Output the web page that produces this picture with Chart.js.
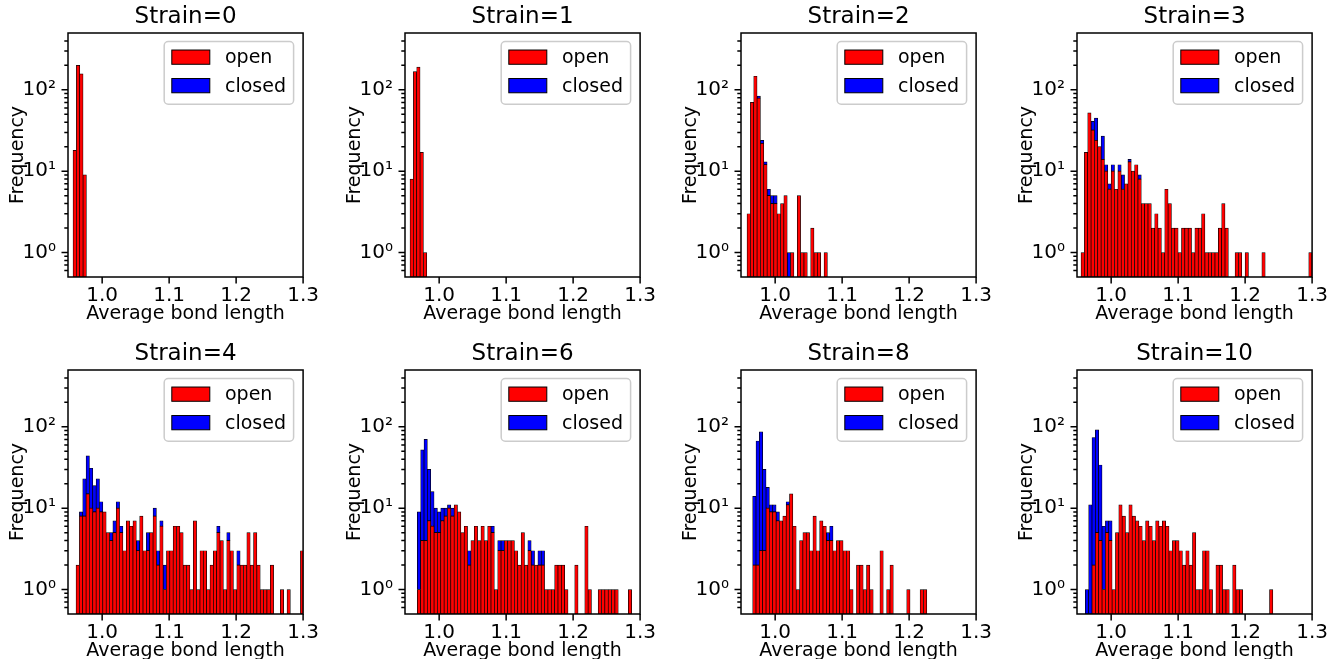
<!DOCTYPE html>
<html>
<head>
<meta charset="utf-8">
<script src="https://cdn.jsdelivr.net/npm/chart.js@4.4.0/dist/chart.umd.min.js"></script>
<style>
  html, body { margin: 0; padding: 0; background: #fff; overflow: hidden; width: 1329px; height: 659px; }
  canvas { position: absolute; }
</style>
</head>
<body>
<script>
// histogram data: counts per bin (bin width 0.005), one pair of arrays per strain
const strains = [0, 1, 2, 3, 4, 6, 8, 10];
const binWidth = 0.005;
const binStart = [0.9565, 0.9565, 0.958, 0.955, 0.961, 0.9674, 0.9664, 0.9614];

const open0 = [18, 200, 157, 9];
const closed0 = [0, 0, 0, 0];

const open1 = [8, 168, 190, 17, 1];
const closed1 = [0, 0, 0, 0, 0];

const open2 = [3, 70, 147, 79, 22, 12, 5, 4, 4, 3, 4, 5, 0, 1, 0, 5, 1, 1, 0, 2, 1, 1, 0, 1];
const closed2 = [0, 0, 0, 5, 2, 1, 1, 1, 1, 0, 0, 0, 1, 0, 0, 0, 0, 0, 0, 0, 0, 0, 0, 0];

const open3 = [1, 17, 52, 32, 24, 20, 14, 10, 6, 10,
               6, 10, 6, 7, 13, 10, 12, 8, 4, 4,
               4, 2, 3, 2, 1, 6, 4, 2, 2, 1,
               2, 2, 2, 1, 2, 2, 3, 1, 1, 1,
               1, 2, 4, 2, 0, 0, 1, 1, 0, 1,
               0, 0, 0, 0, 1, 0, 0, 0, 0, 0,
               0, 0, 0, 0, 0, 0, 0, 0, 1];
const closed3 = [0, 0, 0, 9, 21, 0, 13, 2, 1, 2,
                 0, 2, 3, 0, 1, 0, 0, 1, 0, 0];

const open4 = [2, 8, 8, 15, 10, 9, 10, 9, 9, 5,
               4, 5, 10, 5, 3, 7, 6, 7, 3, 8,
               3, 3, 5, 8, 2, 6, 1, 3, 3, 6,
               6, 5, 2, 2, 1, 7, 1, 3, 3, 1,
               2, 3, 5, 4, 1, 4, 3, 1, 2, 2,
               2, 5, 2, 5, 2, 1, 1, 1, 2, 0,
               0, 1, 0, 1, 0, 0, 0, 3];
const closed4 = [0, 1, 15, 29, 21, 10, 13, 3, 0, 0,
                 1, 2, 2, 1, 0, 0, 0, 0, 1, 0,
                 0, 2, 0, 2, 1, 1, 1, 0, 0, 0,
                 0, 0, 0, 0, 0, 0, 0, 0, 0, 0,
                 0, 0, 1, 0, 0, 1, 0, 0, 1, 0];

const open6 = [1, 4, 4, 7, 6, 5, 5, 7, 8, 10,
               8, 11, 9, 5, 6, 2, 4, 6, 4, 6,
               4, 6, 5, 1, 3, 3, 4, 4, 4, 3,
               2, 5, 2, 3, 2, 2, 2, 2, 1, 1,
               1, 2, 2, 2, 1, 0, 0, 2, 0, 0,
               6, 1, 0, 0, 1, 1, 1, 1, 1, 1,
               0, 0, 0, 1];
const closed6 = [8, 48, 66, 23, 10, 5, 4, 3, 2, 1,
                 2, 0, 0, 0, 0, 1, 0, 0, 0, 0,
                 0, 0, 1, 0, 1, 1, 0, 0, 0, 0,
                 0, 0, 0, 1, 1, 0, 1, 1];

const open8 = [2, 2, 3, 3, 10, 9, 9, 7, 7, 8,
               11, 15, 6, 1, 4, 5, 5, 3, 8, 3,
               7, 6, 4, 4, 3, 4, 4, 3, 3, 1,
               0, 2, 2, 1, 2, 1, 0, 0, 3, 0,
               1, 2, 0, 0, 0, 0, 1, 0, 0, 0,
               1, 1];
const closed8 = [12, 65, 84, 27, 8, 2, 2, 2, 0, 0,
                 1, 0, 0, 0, 0, 0, 0, 0, 0, 0,
                 0, 0, 1, 2];

const open10 = [0, 0, 2, 5, 4, 1, 5, 4, 1, 5,
                11, 8, 5, 11, 8, 7, 6, 4, 7, 6,
                4, 7, 6, 7, 6, 3, 4, 4, 3, 2,
                3, 2, 5, 1, 1, 3, 3, 1, 0, 2,
                2, 1, 1, 0, 2, 1, 1, 0, 0, 0,
                0, 0, 0, 0, 0, 1];
const closed10 = [1, 11, 72, 87, 30, 5, 2, 3];

const openCounts = [open0, open1, open2, open3, open4, open6, open8, open10];
const closedCounts = [closed0, closed1, closed2, closed3, closed4, closed6, closed8, closed10];

const xTicks = [1.0, 1.1, 1.2, 1.3];
const yMajor = [1, 10, 100];
const yMajorText = ['10\u2070', '10\u00b9', '10\u00b2'];
const yMinor = [0.6, 0.7, 0.8, 0.9, 2, 3, 4, 5, 6, 7, 8, 9,
                20, 30, 40, 50, 60, 70, 80, 90, 200, 300, 400];

// figure layout (px)
const axLeft = [68, 405, 741, 1077];
const axTop = [33, 370];
const axW = 236, axH = 244;
const yAxisW = 68, titleH = 33, xAxisH = 50, padRight = 22;
const FS = 19, TICK_FS = 20;

Chart.defaults.font.family = '"DejaVu Sans", sans-serif';
Chart.defaults.color = '#000';

// spines, tick marks and the matplotlib-style legend
const mplAxes = {
  id: 'mplAxes',
  afterDatasetsDraw(chart) {
    const { ctx, chartArea: a, scales: { x, y } } = chart;
    ctx.save();
    ctx.strokeStyle = '#000';
    ctx.lineWidth = 1.5;
    ctx.beginPath();
    xTicks.forEach(v => {
      const px = x.getPixelForValue(v);
      ctx.moveTo(px, a.bottom); ctx.lineTo(px, a.bottom + 6.5);
    });
    yMajor.forEach(v => {
      const py = y.getPixelForValue(v);
      ctx.moveTo(a.left, py); ctx.lineTo(a.left - 6.5, py);
    });
    yMinor.forEach(v => {
      const py = y.getPixelForValue(v);
      ctx.moveTo(a.left, py); ctx.lineTo(a.left - 3.7, py);
    });
    ctx.stroke();
    ctx.strokeRect(a.left, a.top, a.right - a.left, a.bottom - a.top);

    // legend
    ctx.font = FS + 'px "DejaVu Sans"';
    const sets = chart.data.datasets;
    const tw = Math.max(...sets.map(d => ctx.measureText(d.label).width));
    const pad = 0.4 * FS, hl = 2 * FS, hh = 0.75 * FS, htp = 0.8 * FS, ls = 0.5 * FS, rowH = FS;
    const w = pad * 2 + hl + htp + tw;
    const h = pad * 2 + rowH * 2 + ls;
    const bx = a.right - 0.5 * FS - w, by = a.top + 0.45 * FS;
    ctx.beginPath();
    ctx.roundRect(bx, by, w, h, 4);
    ctx.fillStyle = 'rgba(255,255,255,0.8)';
    ctx.fill();
    ctx.strokeStyle = '#cccccc';
    ctx.lineWidth = 1.5;
    ctx.stroke();
    sets.forEach((d, i) => {
      const cy = by + pad + rowH / 2 - 1.5 + i * (rowH + ls);
      ctx.fillStyle = d.backgroundColor;
      ctx.fillRect(bx + pad, cy - hh / 2, hl, hh);
      ctx.strokeStyle = '#000';
      ctx.lineWidth = 1;
      ctx.strokeRect(bx + pad, cy - hh / 2, hl, hh);
      ctx.fillStyle = '#000';
      ctx.textBaseline = 'middle';
      ctx.textAlign = 'left';
      ctx.fillText(d.label, bx + pad + hl + htp, cy + 1);
    });
    ctx.restore();
  }
};

function binPoints(start, counts) {
  return counts.map((v, i) => ({ x: start + (i + 0.5) * binWidth, y: v > 0 ? v : null }));
}

strains.forEach((s, k) => {
  const col = k % 4, row = Math.floor(k / 4);
  const cv = document.createElement('canvas');
  const cw = yAxisW + axW + padRight, ch = titleH + axH + xAxisH;
  cv.width = cw; cv.height = ch;
  cv.style.left = (axLeft[col] - yAxisW) + 'px';
  cv.style.top = (axTop[row] - titleH) + 'px';
  cv.style.width = cw + 'px'; cv.style.height = ch + 'px';
  document.body.appendChild(cv);

  const open = openCounts[k];
  const closed = open.map((_, i) => closedCounts[k][i] || 0);
  const barStyle = {
    borderColor: '#000',
    borderWidth: 0.7,
    borderSkipped: false,
    barPercentage: 1,
    categoryPercentage: 1
  };

  new Chart(cv, {
    type: 'bar',
    data: {
      datasets: [
        Object.assign({ label: 'open', data: binPoints(binStart[k], open), backgroundColor: '#ff0000' }, barStyle),
        Object.assign({ label: 'closed', data: binPoints(binStart[k], closed), backgroundColor: '#0000ff' }, barStyle)
      ]
    },
    options: {
      responsive: false,
      animation: false,
      events: [],
      layout: { padding: { left: 0, right: padRight, top: 0, bottom: 0 } },
      plugins: {
        legend: { display: false },
        tooltip: { enabled: false },
        title: {
          display: true,
          fullSize: false,
          text: 'Strain=' + s,
          color: '#000',
          font: { size: 23, weight: 'normal', lineHeight: 1.2 },
          padding: { top: 3, bottom: 2.4 }
        }
      },
      scales: {
        x: {
          type: 'linear',
          stacked: true,
          offset: false,
          min: 0.949,
          max: 1.3,
          afterBuildTicks: sc => { sc.ticks = xTicks.map(v => ({ value: v })); },
          afterFit: sc => { sc.height = xAxisH; },
          ticks: {
            autoSkip: false,
            maxRotation: 0,
            padding: 7,
            font: { size: TICK_FS },
            color: '#000',
            callback: v => v.toFixed(1)
          },
          grid: { display: false, drawTicks: false },
          border: { display: false },
          title: {
            display: true,
            text: 'Average bond length',
            font: { size: FS },
            color: '#000',
            padding: { top: 0, bottom: 2 }
          }
        },
        y: {
          type: 'logarithmic',
          stacked: true,
          min: 0.5,
          max: 500,
          afterBuildTicks: sc => { sc.ticks = yMajor.map(v => ({ value: v })); },
          afterFit: sc => { sc.width = yAxisW; },
          ticks: {
            autoSkip: false,
            padding: 12,
            font: { size: TICK_FS },
            color: '#000',
            callback: v => yMajorText[yMajor.indexOf(v)] || ''
          },
          grid: { display: false, drawTicks: false },
          border: { display: false },
          title: {
            display: true,
            text: 'Frequency',
            font: { size: FS },
            color: '#000',
            padding: { top: 6.5, bottom: 0 }
          }
        }
      }
    },
    plugins: [mplAxes]
  });
});
</script>
</body>
</html>
